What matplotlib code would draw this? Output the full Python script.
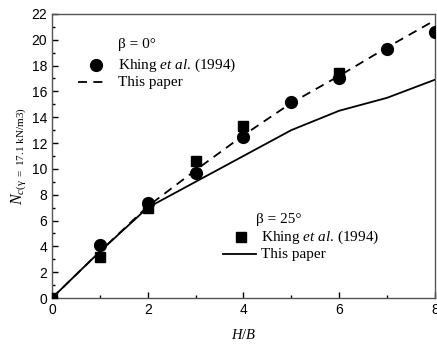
import numpy as np
import matplotlib.pyplot as plt

plt.rcParams['font.family'] = 'Liberation Sans'
plt.rcParams['mathtext.fontset'] = 'custom'
plt.rcParams['mathtext.rm'] = 'Liberation Serif'
plt.rcParams['mathtext.it'] = 'Liberation Serif:italic'

hb = [0, 1, 2, 3, 4, 5, 6, 7, 8]
# beta = 0
khing0_x = [1, 2, 3, 4, 5, 6, 7, 8]
khing0 = [4.1, 7.35, 9.7, 12.5, 15.2, 17.0, 19.25, 20.6]
paper0 = [0, 3.6, 7.1, 9.9, 12.6, 15.1, 17.2, 19.4, 21.5]
# beta = 25
khing25_x = [0, 1, 2, 3, 4, 6]
khing25 = [0, 3.15, 7.0, 10.6, 13.3, 17.4]
paper25 = [0, 3.6, 7.0, 9.0, 11.0, 13.0, 14.5, 15.5, 16.9]

fig = plt.figure(figsize=(4.37, 3.47), dpi=100)
ax = fig.add_axes([0.119, 0.141, 0.876, 0.819])

ax.plot(hb, paper25, color='black', lw=1.3, zorder=2)
ax.plot(hb, paper0, color='black', lw=1.3, ls=(0, (5, 3.5)), zorder=2)
ax.plot(khing0_x, khing0, 'o', color='black', ms=8.5, zorder=3)
ax.plot(khing25_x, khing25, 's', color='black', ms=7, zorder=4)

ax.set_xlim(0, 8)
ax.set_ylim(0, 22)
ax.set_xticks([0, 2, 4, 6, 8])
ax.set_xticks([1, 3, 5, 7], minor=True)
ax.set_yticks(np.arange(0, 23, 2))
ax.set_yticks(np.arange(1, 22, 2), minor=True)
ax.tick_params(which='both', direction='in', top=False, right=False,
               labelsize=10, colors='black')
ax.tick_params(which='major', length=4.5, width=1)
ax.tick_params(which='minor', length=2.5, width=1)
for s in ax.spines.values():
    s.set_color('#555555')
    s.set_linewidth(1.0)

ax.set_xlabel('$H/B$', fontsize=10.5, labelpad=8)
ax.set_ylabel(r'$N_{c\mathrm{(\gamma\ =\ 17.1\ kN/m3)}}$', fontsize=11.5, labelpad=2)

serif = 'Liberation Serif'
fs = 11
# legend for beta = 0
ax.text(1.38, 19.6, 'β = 0°', family=serif, fontsize=fs, va='center')
ax.plot([0.92], [18.05], 'o', color='black', ms=8.5)
ax.text(1.38, 18.05, 'Khing $et\\ al$. (1994)', family=serif, fontsize=fs, va='center')
ax.plot([0.55, 1.17], [16.7, 16.7], color='black', lw=1.3, ls=(0, (5, 3.5)))
ax.text(1.38, 16.7, 'This paper', family=serif, fontsize=fs, va='center')

# legend for beta = 25
ax.text(4.27, 6.12, 'β = 25°', family=serif, fontsize=fs, va='center')
ax.plot([3.96], [4.73], 's', color='black', ms=7)
ax.text(4.36, 4.73, 'Khing $et\\ al$. (1994)', family=serif, fontsize=fs, va='center')
ax.plot([3.58, 4.27], [3.41, 3.41], color='black', lw=1.3)
ax.text(4.36, 3.41, 'This paper', family=serif, fontsize=fs, va='center')

plt.savefig('out.png', dpi=100)
